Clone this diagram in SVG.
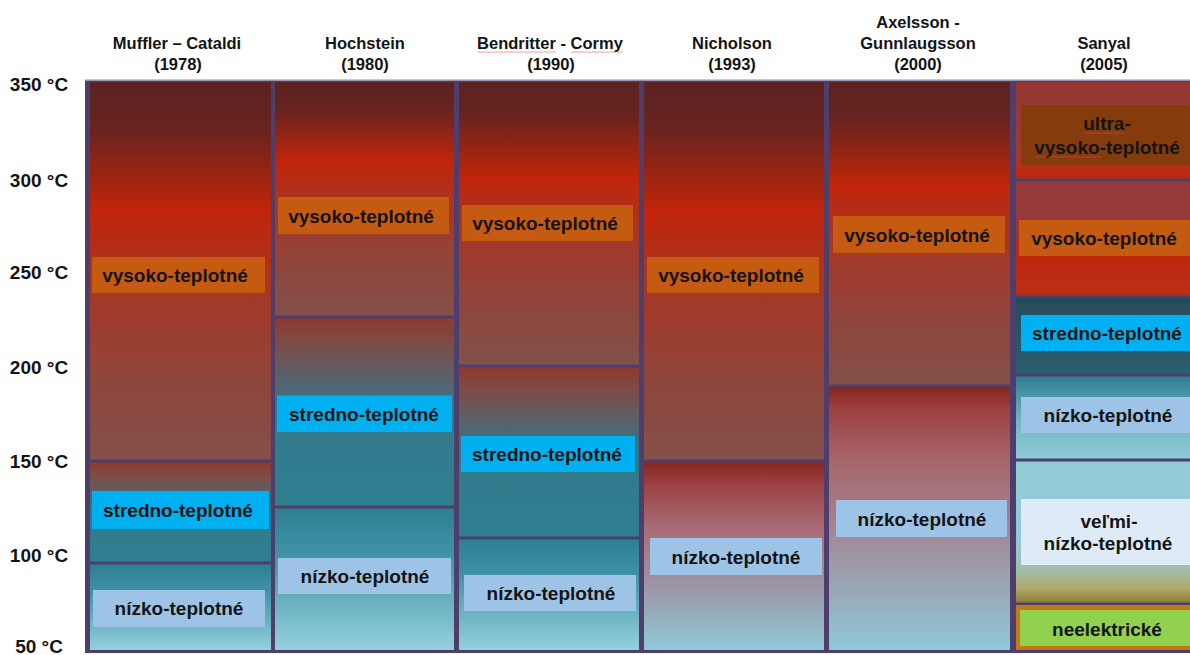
<svg xmlns="http://www.w3.org/2000/svg" width="1190" height="655" viewBox="0 0 1190 655">
<defs>
<style>
.t{font-family:"Liberation Sans",Arial,sans-serif;font-weight:bold;fill:#141414;text-anchor:middle}
.hdr{font-size:16.5px}
.ax{font-size:19px}
.lbl{font-size:19px}
.orange{fill:#c55a11}
.cyan{fill:#00b0f0}
.lblue{fill:#9dc3e6}
.brown{fill:#843c0c}
.pale{fill:#deebf7}
.green{fill:#92d050}
.wavy{fill:url(#wavy);opacity:0.7}
</style>
<pattern id="wavy" width="3" height="2" patternUnits="userSpaceOnUse">
<path d="M0 1.6 L0.75 0.4 L1.5 1.6 L2.25 0.4 L3 1.6" stroke="#e04848" stroke-width="0.6" fill="none"/>
</pattern>
<linearGradient id="gHigh" x1="0" y1="0" x2="0" y2="1">
<stop offset="0" stop-color="#5b2321"/><stop offset="0.12" stop-color="#67231f"/><stop offset="0.34" stop-color="#c1250a"/><stop offset="0.55" stop-color="#a53727"/><stop offset="0.8" stop-color="#8e463c"/><stop offset="1" stop-color="#83504a"/>
</linearGradient>
<linearGradient id="gMid" x1="0" y1="0" x2="0" y2="1">
<stop offset="0" stop-color="#8c3a2e"/><stop offset="0.12" stop-color="#7e4a45"/><stop offset="0.3" stop-color="#5d5f67"/><stop offset="0.5" stop-color="#33788a"/><stop offset="1" stop-color="#2e7f90"/>
</linearGradient>
<linearGradient id="gLow" x1="0" y1="0" x2="0" y2="1">
<stop offset="0" stop-color="#2e7f92"/><stop offset="0.3" stop-color="#3e90a4"/><stop offset="1" stop-color="#95d0dc"/>
</linearGradient>
<linearGradient id="gLow4" x1="0" y1="0" x2="0" y2="1">
<stop offset="0" stop-color="#8a2420"/><stop offset="0.12" stop-color="#9c4242"/><stop offset="0.35" stop-color="#a76c77"/><stop offset="0.65" stop-color="#9d94a5"/><stop offset="1" stop-color="#8fc9d8"/>
</linearGradient>
<linearGradient id="gLow5" x1="0" y1="0" x2="0" y2="1">
<stop offset="0" stop-color="#8a2420"/><stop offset="0.08" stop-color="#9c4040"/><stop offset="0.28" stop-color="#a6666e"/><stop offset="0.45" stop-color="#a67a84"/><stop offset="0.72" stop-color="#9ba0b0"/><stop offset="1" stop-color="#8fc9d8"/>
</linearGradient>
<linearGradient id="gS1" x1="0" y1="0" x2="0" y2="1">
<stop offset="0" stop-color="#953834"/><stop offset="0.75" stop-color="#9c3a30"/><stop offset="0.88" stop-color="#b82e14"/><stop offset="1" stop-color="#c0280c"/>
</linearGradient>
<linearGradient id="gS2" x1="0" y1="0" x2="0" y2="1">
<stop offset="0" stop-color="#953a3c"/><stop offset="0.3" stop-color="#973838"/><stop offset="0.65" stop-color="#c0260c"/><stop offset="1" stop-color="#b83018"/>
</linearGradient>
<linearGradient id="gS3" x1="0" y1="0" x2="0" y2="1">
<stop offset="0" stop-color="#244b5c"/><stop offset="1" stop-color="#2c5f70"/>
</linearGradient>
<linearGradient id="gS4" x1="0" y1="0" x2="0" y2="1">
<stop offset="0" stop-color="#2f7e92"/><stop offset="0.55" stop-color="#74b6c6"/><stop offset="1" stop-color="#8fcad7"/>
</linearGradient>
<linearGradient id="gS5" x1="0" y1="0" x2="0" y2="1">
<stop offset="0" stop-color="#90ccd8"/><stop offset="0.6" stop-color="#93c9d3"/><stop offset="0.78" stop-color="#a4bca8"/><stop offset="0.9" stop-color="#afa86a"/><stop offset="1" stop-color="#8e7f35"/>
</linearGradient>
</defs>
<rect width="1190" height="655" fill="#ffffff"/>

<g id="axis">
<text class="t ax" x="39" y="91">350 °C</text>
<text class="t ax" x="39" y="187">300 °C</text>
<text class="t ax" x="39" y="279">250 °C</text>
<text class="t ax" x="39" y="374">200 °C</text>
<text class="t ax" x="39" y="468">150 °C</text>
<text class="t ax" x="39" y="562">100 °C</text>
<text class="t ax" x="39" y="653">50 °C</text>
</g>

<g id="headers">
<text class="t hdr" x="177" y="49">Muffler – Cataldi</text>
<text class="t hdr" x="178" y="70">(1978)</text>
<text class="t hdr" x="365" y="49">Hochstein</text>
<text class="t hdr" x="365" y="70">(1980)</text>
<text class="t hdr" x="550" y="49">Bendritter - Cormy</text>
<text class="t hdr" x="551" y="70">(1990)</text>
<rect class="wavy" x="478" y="51" width="78" height="2"/>
<rect class="wavy" x="571" y="51" width="52" height="2"/>
<text class="t hdr" x="732" y="49">Nicholson</text>
<text class="t hdr" x="732" y="70">(1993)</text>
<text class="t hdr" x="918" y="28">Axelsson -</text>
<text class="t hdr" x="918" y="49">Gunnlaugsson</text>
<text class="t hdr" x="918" y="70">(2000)</text>
<text class="t hdr" x="1104" y="49">Sanyal</text>
<text class="t hdr" x="1104" y="70">(2005)</text>
</g>

<g id="frame">
<rect x="85" y="80" width="1105" height="573" fill="#4d3e6b"/>
<rect x="85" y="79.5" width="1105" height="1.5" fill="#9a94ae"/>
</g>

<g id="col-muffler">
<rect x="90" y="82" width="181" height="377.5" fill="url(#gHigh)"/>
<rect x="90" y="462.5" width="181" height="99" fill="url(#gMid)"/>
<rect x="90" y="564.5" width="181" height="85.5" fill="url(#gLow)"/>
<rect class="orange" x="92" y="257" width="173" height="36"/>
<text class="t lbl" x="175" y="282">vysoko-teplotné</text>
<rect class="wavy" x="103" y="284" width="66" height="2"/>
<rect class="cyan" x="92" y="491" width="177" height="38"/>
<text class="t lbl" x="178" y="517">stredno-teplotné</text>
<rect class="lblue" x="93" y="590" width="172" height="37"/>
<text class="t lbl" x="179" y="615">nízko-teplotné</text>
</g>

<g id="col-hochstein">
<rect x="275" y="82" width="179" height="233.5" fill="url(#gHigh)"/>
<rect x="275" y="318.5" width="179" height="187" fill="url(#gMid)"/>
<rect x="275" y="508.5" width="179" height="141.5" fill="url(#gLow)"/>
<rect class="orange" x="278" y="197" width="171" height="37"/>
<text class="t lbl" x="361" y="222.5">vysoko-teplotné</text>
<rect class="wavy" x="289" y="224.5" width="66" height="2"/>
<rect class="cyan" x="277" y="395.5" width="175" height="36.5"/>
<text class="t lbl" x="364" y="421">stredno-teplotné</text>
<rect class="lblue" x="278" y="558" width="173" height="36"/>
<text class="t lbl" x="365" y="583">nízko-teplotné</text>
</g>

<g id="col-bendritter">
<rect x="459" y="82" width="180" height="282.5" fill="url(#gHigh)"/>
<rect x="459" y="367.5" width="180" height="169" fill="url(#gMid)"/>
<rect x="459" y="539.5" width="180" height="110.5" fill="url(#gLow)"/>
<rect class="orange" x="462" y="205" width="171" height="36"/>
<text class="t lbl" x="545" y="230">vysoko-teplotné</text>
<rect class="wavy" x="473" y="232" width="66" height="2"/>
<rect class="cyan" x="461" y="436" width="174" height="36"/>
<text class="t lbl" x="547" y="461">stredno-teplotné</text>
<rect class="lblue" x="464" y="575" width="172" height="36"/>
<text class="t lbl" x="551" y="600">nízko-teplotné</text>
</g>

<g id="col-nicholson">
<rect x="644" y="82" width="180" height="377.5" fill="url(#gHigh)"/>
<rect x="644" y="462.5" width="180" height="187.5" fill="url(#gLow4)"/>
<rect class="orange" x="647" y="257" width="172" height="36"/>
<text class="t lbl" x="731" y="282">vysoko-teplotné</text>
<rect class="wavy" x="659" y="284" width="66" height="2"/>
<rect class="lblue" x="650" y="538" width="172" height="37"/>
<text class="t lbl" x="736" y="563.5">nízko-teplotné</text>
</g>

<g id="col-axelsson">
<rect x="829" y="82" width="181" height="302.5" fill="url(#gHigh)"/>
<rect x="829" y="387.5" width="181" height="262.5" fill="url(#gLow5)"/>
<rect class="orange" x="833" y="216" width="172" height="37"/>
<text class="t lbl" x="917" y="241.5">vysoko-teplotné</text>
<rect class="wavy" x="845" y="243.5" width="66" height="2"/>
<rect class="lblue" x="836" y="500" width="171" height="37"/>
<text class="t lbl" x="922" y="525.5">nízko-teplotné</text>
</g>

<g id="col-sanyal">
<rect x="1016" y="82" width="174" height="96.5" fill="url(#gS1)"/>
<rect x="1016" y="181.5" width="174" height="114" fill="url(#gS2)"/>
<rect x="1016" y="297.5" width="174" height="76" fill="url(#gS3)"/>
<rect x="1016" y="376.5" width="174" height="82" fill="url(#gS4)"/>
<rect x="1016" y="461.5" width="174" height="141" fill="url(#gS5)"/>
<rect x="1016" y="605" width="174" height="45" fill="#c47a12"/>
<rect class="brown" x="1021" y="105" width="169" height="60"/>
<text class="t lbl" x="1107" y="130">ultra-</text>
<text class="t lbl" x="1107" y="154">vysoko-teplotné</text>
<rect class="wavy" x="1083" y="132" width="41" height="2"/>
<rect class="wavy" x="1035" y="156" width="66" height="2"/>
<rect class="orange" x="1019" y="220" width="171" height="36"/>
<text class="t lbl" x="1104" y="245">vysoko-teplotné</text>
<rect class="wavy" x="1032" y="247" width="66" height="2"/>
<rect class="cyan" x="1021" y="315" width="169" height="36"/>
<text class="t lbl" x="1107" y="340">stredno-teplotné</text>
<rect class="lblue" x="1021" y="397" width="169" height="36"/>
<text class="t lbl" x="1108" y="422">nízko-teplotné</text>
<rect class="pale" x="1021" y="499" width="169" height="66"/>
<text class="t lbl" x="1109" y="528">veľmi-</text>
<text class="t lbl" x="1108" y="550">nízko-teplotné</text>
<rect class="green" x="1020" y="610" width="170" height="36"/>
<text class="t lbl" x="1107" y="636">neelektrické</text>
</g>
</svg>
